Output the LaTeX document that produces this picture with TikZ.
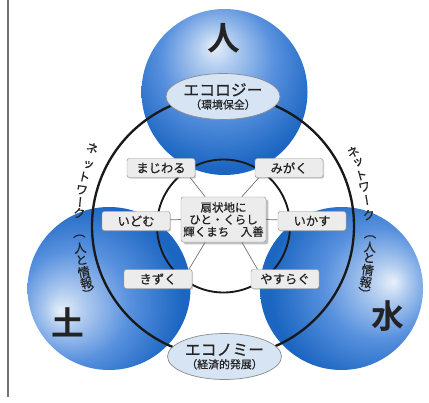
\documentclass[tikz,border=0pt]{standalone}
\usepackage{fontspec}
\setmainfont{Noto Sans CJK JP}[FakeBold=0.6]
\newfontfamily\vjp{Noto Sans CJK JP}[RawFeature=+vert, FakeBold=0.6]
\newfontfamily\jpbig{Noto Sans CJK JP Bold}
\definecolor{globe_dark}{RGB}{28,102,194}
\definecolor{globe_mid}{RGB}{88,145,222}
\definecolor{globe_hi}{RGB}{232,240,250}
\definecolor{oval_c}{RGB}{214,228,243}
\definecolor{tag_c}{RGB}{236,236,236}
\definecolor{ink_c}{RGB}{35,35,35}
\usepackage{tikz}
\usetikzlibrary{calc,
                positioning,
                shadows,
                shapes.geometric}
\pgfdeclareradialshading{globe_top}{\pgfpoint{-3bp}{14bp}}{color(0bp)=(globe_hi); color(6bp)=(globe_hi!60!globe_mid); color(17bp)=(globe_mid); color(30bp)=(globe_dark); color(60bp)=(globe_dark)}
\pgfdeclareradialshading{globe_left}{\pgfpoint{-15bp}{-7bp}}{color(0bp)=(globe_hi); color(6bp)=(globe_hi!60!globe_mid); color(17bp)=(globe_mid); color(30bp)=(globe_dark); color(60bp)=(globe_dark)}
\pgfdeclareradialshading{globe_right}{\pgfpoint{16bp}{2bp}}{color(0bp)=(globe_hi); color(6bp)=(globe_hi!60!globe_mid); color(17bp)=(globe_mid); color(30bp)=(globe_dark); color(60bp)=(globe_dark)}

\begin{document}
\begin{tikzpicture}[
			x=0.03cm, y=-0.03cm,
			ring/.style = {line width=2pt, draw=black!90},
			oval/.style = {ellipse, draw=black!45, line width=0.6pt, fill=oval_c, minimum width=3.42cm, minimum height=1.38cm, inner sep=0pt, align=center, text=ink_c},
			tag/.style = {rectangle, rounded corners=2pt, draw=black!40, fill=tag_c, minimum width=2.04cm, minimum height=0.57cm, inner sep=0pt, text=ink_c, font=\fontsize{10.5}{11}\selectfont, drop shadow={shadow xshift=1pt, shadow yshift=-1pt, opacity=0.4}},
			hub/.style = {rectangle, rounded corners=2pt, draw=black!40, fill=tag_c, minimum width=2.55cm, minimum height=1.35cm, inner sep=0pt, align=center, text=ink_c, font=\fontsize{9.8}{10.4}\selectfont, drop shadow={shadow xshift=2pt, shadow yshift=-2pt, opacity=0.5}},
			link/.style = {draw=black!55, line width=0.6pt},
			glyph/.style = {font=\jpbig\fontsize{28}{28}\selectfont, text=ink_c, inner sep=0pt},
			netch/.style = {font=\vjp\fontsize{10.5}{10.5}\selectfont, text=ink_c, inner sep=0pt},
			]
			\fill[white] (0,0) rectangle (429,403);
			\useasboundingbox (0,0) rectangle (429,403);
			\draw[black!55, line width=1.2pt] (8,0) -- (8,397);
			% globes
			\shade[shading=globe_top] (224.5,92) circle (83);
			\shade[shading=globe_left] (109,288.5) circle (81.5);
			\shade[shading=globe_right] (341.5,288.5) circle (81.5);
			% rings
			\draw[ring] (223,226) circle (131);
			\draw[ring, line width=1.6pt] (223.5,226) circle (66.5);
			% ovals
			\node[oval] (ecology) at (223,96.5) {{\fontsize{13.5}{14}\selectfont エコロジー}\\[-1pt]{\fontsize{9.3}{10}\selectfont （環境保全）}};
			\node[oval] (economy) at (224.5,356.5) {{\fontsize{13.5}{14}\selectfont エコノミー}\\[-1pt]{\fontsize{9.3}{10}\selectfont （経済的発展）}};
			% big glyphs
			\node[glyph] (hito) at (224,38) {人};
			\node[glyph] (tsuchi) at (67.5,322.5) {土};
			\node[glyph] (mizu) at (388,316) {水};
			% network labels
			\foreach \ch/\ang [count=\i] in {ネ/160.3, ッ/164.7, ト/167.8, ワ/171.2, ー/174.2, ク/177.0, （/182.8, 人/185.8, と/188.8, 情/191.9, 報/194.7, ）/197.4}
				\node[netch, rotate=\ang-180] (netl\i) at ($(307,225)+(-\ang:228)$) {\ch};
			\foreach \ch/\ang [count=\i] in {ネ/22.2, ッ/19.2, ト/16.0, ワ/12.9, ー/9.6, ク/5.8, （/0.3, 人/-2.3, と/-5.0, 情/-8.1, 報/-11.1, ）/-14.0}
				\node[netch, rotate=\ang] (netr\i) at ($(142,238)+(-\ang:228)$) {\ch};
			% boxes
			\node[hub] (hub) at (223.5,219.5) {扇状地に\\ひと・くらし\\輝くまち　入善};
			\node[tag] (majiwaru) at (161,168) {まじわる};
			\node[tag] (migaku) at (289,168) {みがく};
			\node[tag] (idomu) at (136,221) {いどむ};
			\node[tag] (ikasu) at (312,221) {いかす};
			\node[tag] (kizuku) at (158,279) {きずく};
			\node[tag] (yasuragu) at (285,279) {やすらぐ};
			% links
			\draw[link] ([xshift=-0.55cm]hub.north) -- ([xshift=-0.15cm]majiwaru.south east);
			\draw[link] ([xshift=0.55cm]hub.north) -- ([xshift=0.12cm]migaku.south west);
			\draw[link] (hub.west) -- (idomu);
			\draw[link] (hub.east) -- (ikasu);
			\draw[link] ([xshift=-0.55cm]hub.south) -- ([xshift=-0.1cm]kizuku.north east);
			\draw[link] ([xshift=0.55cm]hub.south) -- ([xshift=0.2cm]yasuragu.north west);
\end{tikzpicture}
\end{document}
